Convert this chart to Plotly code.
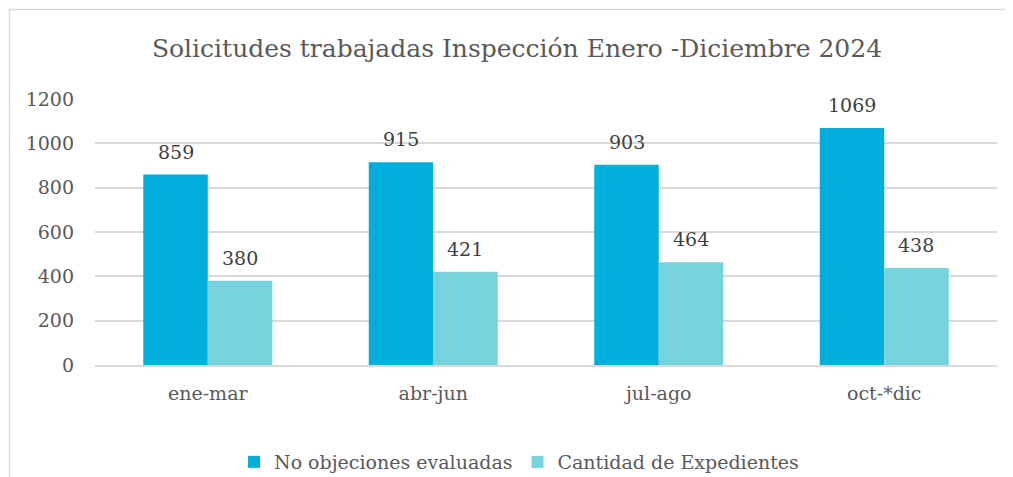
import plotly.graph_objects as go

# datos del grafico
periodos = ["ene-mar", "abr-jun", "jul-ago", "oct-*dic"]
no_objeciones = [859, 915, 903, 1069]
expedientes = [380, 421, 464, 438]
nombres = ["No objeciones evaluadas", "Cantidad de Expedientes"]

# la pagina tiene 8px de margen en el body
OFF = 8
W, H = 1013 - OFF, 477 - OFF
L, R, T, B = 95 - OFF, 16, 99 - OFF, 112
pw, ph = W - L - R, H - T - B

fuente = "DejaVu Serif"
gris = "#595959"

fig = go.Figure()
fig.add_trace(go.Bar(x=periodos, y=no_objeciones, name=nombres[0],
                     marker=dict(color="#00AEDB", line=dict(width=0))))
fig.add_trace(go.Bar(x=periodos, y=expedientes, name=nombres[1],
                     marker=dict(color="#74D3DD", line=dict(width=0))))

# etiquetas de datos encima de cada barra
ancho_barra = pw / len(periodos) * (1 - 0.428) / 2
for serie, desp in ((no_objeciones, -1), (expedientes, 1)):
    for p, v in zip(periodos, serie):
        fig.add_annotation(x=p, y=v, text=str(v), showarrow=False,
                           xshift=desp * ancho_barra / 2, yanchor="bottom", yshift=10,
                           font=dict(size=19, color="#404040", family=fuente))

# borde del area del grafico (coordenadas de la imagen de referencia)
def px(x):
    return (x - OFF - L) / pw

def py(y):
    return (H + OFF - B - y) / ph

linea = dict(color="#D9D9D9", width=1.5)
fig.add_shape(type="line", xref="paper", yref="paper", x0=px(9.5), x1=px(1013),
              y0=py(9.5), y1=py(9.5), line=linea)
fig.add_shape(type="line", xref="paper", yref="paper", x0=px(9.5), x1=px(9.5),
              y0=py(9.5), y1=py(480), line=linea)

fig.update_layout(
    width=W, height=H,
    margin=dict(l=L, r=R, t=T, b=B, autoexpand=False),
    paper_bgcolor="white", plot_bgcolor="white",
    barmode="group", bargap=0.428, bargroupgap=0,
    font=dict(family=fuente, color=gris, size=19),
    title=dict(text="Solicitudes trabajadas Inspección Enero -Diciembre 2024",
               x=px(517), xanchor="center", xref="paper",
               y=1 - (48 - OFF) / H, yanchor="middle",
               font=dict(size=25, color=gris, family=fuente)),
    legend=dict(orientation="h", x=px(519), xanchor="center",
                y=py(462), yanchor="middle",
                font=dict(size=19, color=gris, family=fuente),
                itemwidth=30, traceorder="normal"),
    showlegend=True,
)
fig.update_yaxes(range=[0, 1200], dtick=200, showgrid=True, gridcolor="#D9D9D9",
                 gridwidth=1.5, zeroline=False, showline=False, ticks="",
                 ticklabelstandoff=20, tickfont=dict(size=19, color=gris))
fig.update_xaxes(showgrid=False, showline=True, linecolor="#D9D9D9", linewidth=1.5,
                 ticks="", ticklabelstandoff=10, tickfont=dict(size=19, color=gris))

fig.write_html("out.html")
